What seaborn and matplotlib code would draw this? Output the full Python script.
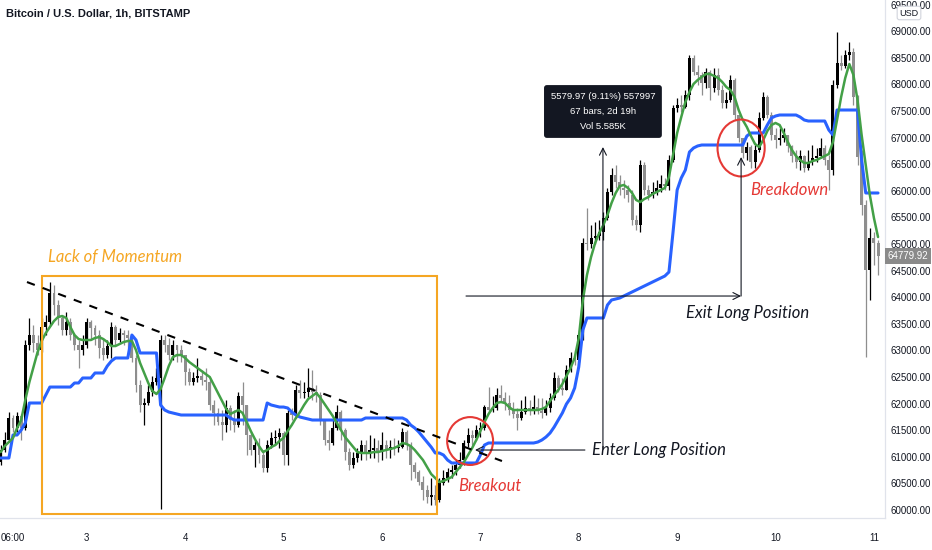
import matplotlib
matplotlib.use("Agg")
import matplotlib.pyplot as plt
from matplotlib import font_manager
from matplotlib.patches import Rectangle, Ellipse
import seaborn as sns
import numpy as np
import pandas as pd

# BTC/USD 1h candles (hour 0 = day 2, 00:00)
first_open = 60900
closes = [
    61128, 61316, 61730, 61542, 61767, 61542, 63102, 63290, 63140, 63008,
    63440, 63534, 64080, 63854, 63610, 63384, 63534, 63290, 63102, 63008,
    63102, 63534, 63422, 63290, 63046, 62914, 63084, 63440, 63196, 63328,
    63290, 63234, 62858, 62350, 61974, 62012, 62218, 62406, 62482, 63196,
    63102, 62914, 63102, 63008, 62914, 62594, 62406, 62482, 62519, 62444,
    62406, 61974, 61824, 61654, 61598, 61918, 61692, 61598, 62143, 61974,
    61410, 61128, 61222, 61034, 60790, 61222, 61354, 61372, 61448, 61034,
    61824, 61786, 62256, 62200, 62218, 62294, 62218, 62162, 61692, 61316,
    61260, 61542, 61842, 61504, 61090, 60846, 60978, 61072, 61222, 61090,
    61128, 61166, 61090, 61222, 61128, 61184, 61166, 61184, 61466, 61222,
    60846, 60714, 60526, 60376, 60244, 60282, 60188, 60508, 60602, 60714,
    60752, 60846, 60940, 61260, 61410, 61354, 61504, 61542, 61936, 61880,
    61918, 62162, 62106, 62012, 61880, 61805, 61730, 61842, 61918, 61880,
    61936, 61861, 61824, 61918, 62106, 62482, 62294, 62256, 62632, 62858,
    62820, 63290, 65020, 65000, 65114, 65150, 65226, 65490, 65980, 66298,
    66166, 66054, 66016, 65922, 65452, 65358, 66486, 66016, 65922, 65980,
    66054, 66130, 66092, 66580, 67558, 67614, 67576, 67802, 68498, 68234,
    68178, 68028, 68234, 67934, 68178, 67896, 67652, 67708, 68084, 67426,
    66994, 66712, 66824, 66542, 66768, 67370, 67764, 67426, 67050, 66956,
    66994, 67050, 66844, 66655, 66542, 66655, 66430, 66542, 66618, 66655,
    66806, 66580, 66392, 67990, 68404, 68347, 68554, 68610, 67764, 66636,
    65734, 64512, 65114, 65020, 64779.92,
]
highs = [
    61222, 61466, 61842, 61786, 61842, 61805, 63196, 63610, 63478, 63290,
    63610, 63666, 64286, 64230, 63948, 63666, 63722, 63610, 63328, 63196,
    63290, 63610, 63572, 63478, 63384, 63234, 63196, 63534, 63478, 63422,
    63384, 63384, 63271, 62914, 62444, 62106, 62350, 62519, 62670, 63290,
    63290, 63234, 63196, 63102, 63102, 62914, 62670, 62594, 62858, 62632,
    62670, 62482, 62068, 61918, 61880, 62068, 61974, 61880, 62218, 62406,
    61974, 61466, 61316, 61354, 61128, 61316, 61466, 61504, 61542, 61480,
    61880, 61918, 62350, 62444, 62406, 62670, 62632, 62350, 62218, 61692,
    61504, 61692, 61974, 61880, 61542, 61166, 61090, 61166, 61316, 61316,
    61410, 61354, 61316, 61466, 61316, 61316, 61354, 61316, 61542, 61504,
    61278, 60902, 60752, 60639, 60470, 60602, 60470, 60602, 60752, 60790,
    60846, 60940, 61090, 61316, 61542, 61504, 61598, 61654, 61974, 62312,
    62143, 62294, 62350, 62218, 62162, 62030, 61918, 62068, 62143, 62068,
    62162, 62106, 62106, 62068, 62200, 62594, 62538, 62482, 62726, 62970,
    63008, 63384, 65114, 65678, 65358, 65414, 65452, 65602, 66054, 66430,
    66486, 66298, 66204, 66110, 66016, 65546, 66580, 66542, 66110, 66166,
    66204, 66298, 66242, 66674, 67614, 67746, 67802, 67896, 68554, 68554,
    68366, 68234, 68310, 68272, 68310, 68310, 67990, 67858, 68178, 68122,
    67426, 66994, 66918, 66862, 66862, 67482, 67858, 67802, 67482, 67182,
    67182, 67182, 67050, 66862, 66768, 66768, 66674, 66768, 66862, 66806,
    66994, 66862, 66674, 68084, 68986, 68554, 68648, 68798, 68686, 67802,
    66768, 65828, 65302, 65226, 65076,
]
lows = [
    60846, 61090, 61278, 61466, 61466, 61316, 61504, 63008, 62970, 62914,
    62970, 63290, 63478, 63666, 63478, 63290, 63290, 63196, 63008, 62670,
    62914, 63046, 63196, 63102, 62858, 62820, 62858, 62858, 63102, 63158,
    63102, 63046, 62782, 62218, 61842, 61598, 61974, 62143, 62350, 60020,
    62970, 62820, 62820, 62782, 62782, 62350, 62350, 62350, 62406, 62350,
    62256, 61880, 61598, 61598, 61316, 61466, 61504, 61466, 61560, 61598,
    61034, 61034, 60808, 60884, 60714, 60714, 61166, 61222, 61166, 60846,
    60846, 61692, 61730, 62106, 62106, 62130, 62068, 62030, 61598, 61222,
    61128, 61222, 61504, 61316, 60940, 60752, 60790, 60902, 60940, 60940,
    60978, 60978, 60902, 60940, 60978, 60978, 61034, 61090, 61166, 61128,
    60564, 60602, 60470, 60188, 60132, 60094, 60094, 60150, 60470, 60526,
    60602, 60658, 60790, 60846, 61184, 61222, 61316, 61372, 61504, 61842,
    61842, 61880, 62030, 61880, 61786, 61730, 61504, 61692, 61805, 61786,
    61805, 61805, 61730, 61786, 61842, 62068, 62218, 62162, 62256, 62594,
    62726, 62782, 63196, 64888, 64926, 65000, 65076, 65076, 65452, 65922,
    66054, 65922, 65866, 65790, 65358, 65264, 65226, 65922, 65828, 65866,
    65922, 65980, 66016, 66016, 66542, 67482, 67482, 67558, 67708, 68178,
    67990, 67802, 67934, 67708, 67858, 67802, 67558, 67558, 67670, 67332,
    66918, 66618, 66580, 66430, 66430, 66730, 67332, 67370, 66956, 66806,
    66862, 66918, 66730, 66542, 66430, 66392, 66354, 66392, 66486, 66542,
    66618, 66486, 66016, 66298, 67934, 68272, 68310, 68460, 67614, 66486,
    65546, 62876, 63948, 64606, 64418,
]
# green smoothed average, one value per candle
green_ma = [
    61090, 61203, 61278, 61354, 61542, 61692, 62068, 62406, 62688, 62970,
    63177, 63328, 63440, 63553, 63628, 63647, 63610, 63440, 63290, 63215,
    63196, 63196, 63196, 63234, 63252, 63215, 63158, 63083, 63083, 63121,
    63158, 63177, 63177, 63008, 62764, 62576, 62388, 62237, 62181, 62275,
    62482, 62707, 62876, 62914, 62914, 62858, 62782, 62726, 62670, 62613,
    62557, 62500, 62350, 62200, 62049, 61899, 61805, 61842, 61880, 61824,
    61654, 61485, 61335, 61203, 61090, 61128, 61184, 61222, 61297, 61354,
    61485, 61598, 61730, 61842, 61974, 62087, 62143, 62200, 62106, 61993,
    61880, 61767, 61636, 61504, 61372, 61278, 61184, 61090, 61072, 61072,
    61072, 61090, 61090, 61109, 61128, 61147, 61166, 61203, 61260, 61241,
    61203, 61128, 61034, 60940, 60808, 60677, 60602, 60526, 60545, 60583,
    60620, 60714, 60808, 60902, 61034, 61166, 61316, 61485, 61654, 61805,
    61918, 62012, 62030, 62012, 61936, 61880, 61880, 61880, 61880, 61880,
    61880, 61880, 61899, 61936, 62049, 62162, 62256, 62369, 62519, 62670,
    62858, 63234, 63948, 64418, 64756, 65020, 65208, 65358, 65546, 65772,
    65960, 66091, 66110, 66054, 65960, 65828, 65790, 65847, 65884, 65941,
    65978, 66016, 66054, 66262, 66674, 67088, 67388, 67670, 67858, 68009,
    68084, 68140, 68197, 68197, 68159, 68122, 68046, 67952, 67896, 67764,
    67520, 67332, 67200, 67031, 66881, 66824, 66956, 67125, 67238, 67276,
    67238, 67088, 66918, 66768, 66655, 66580, 66524, 66524, 66561, 66580,
    66618, 66655, 66693, 66918, 67332, 67764, 68122, 68385, 68178, 67708,
    67050, 66486, 65922, 65490, 65132,
]
# blue stepped line, one value per candle
blue_line = [
    60978, 60978, 60978, 61410, 61410, 61504, 61636, 62012, 62012, 62012,
    62012, 62162, 62312, 62312, 62312, 62312, 62312, 62312, 62388, 62388,
    62482, 62482, 62482, 62576, 62576, 62576, 62707, 62801, 62858, 62858,
    62858, 62858, 63290, 63196, 62952, 62952, 62952, 62952, 62952, 61974,
    61880, 61842, 61824, 61805, 61786, 61786, 61786, 61786, 61786, 61786,
    61786, 61786, 61786, 61786, 61786, 61786, 61730, 61692, 61692, 61692,
    61692, 61692, 61692, 61692, 61692, 62012, 61974, 61956, 61936, 61936,
    61918, 61842, 61786, 61748, 61730, 61711, 61692, 61692, 61692, 61692,
    61692, 61692, 61692, 61692, 61692, 61692, 61692, 61692, 61692, 61730,
    61730, 61730, 61730, 61730, 61730, 61730, 61730, 61730, 61730, 61692,
    61598, 61542, 61466, 61372, 61278, 61184, 61072, 61072, 61034, 60940,
    60884, 60884, 60884, 60884, 60884, 60884, 60884, 61034, 61222, 61260,
    61260, 61260, 61260, 61260, 61260, 61260, 61260, 61260, 61260, 61260,
    61260, 61278, 61316, 61372, 61448, 61560, 61692, 61824, 61993, 62106,
    62294, 62689, 63384, 63610, 63610, 63610, 63610, 63610, 63854, 63948,
    63967, 63986, 64024, 64061, 64098, 64136, 64174, 64211, 64249, 64286,
    64324, 64362, 64399, 64474, 65226, 66016, 66242, 66392, 66730, 66806,
    66844, 66862, 66862, 66862, 66862, 66862, 66862, 66862, 66862, 66862,
    66862, 66862, 67031, 67088, 67088, 67088, 67088, 67238, 67370, 67407,
    67426, 67426, 67426, 67426, 67426, 67388, 67332, 67313, 67313, 67313,
    67313, 67313, 67144, 67050, 67520, 67520, 67520, 67520, 67520, 67520,
    66580, 65960, 65960, 65960, 65960,
]

tick_hours = [6, 24, 48, 72, 96, 120, 144, 168, 192, 216]
tick_labels = ["06:00", "3", "4", "5", "6", "7", "8", "9", "10", "11"]
last_price = 64779.92

hours = np.arange(3, 3 + len(closes))
df = pd.DataFrame({
    "h": hours,
    "open": [first_open] + closes[:-1],
    "close": closes,
    "high": highs,
    "low": lows,
    "green": green_ma,
    "blue": blue_line,
})

sns.set_style("white")
installed = {f.name for f in font_manager.fontManager.ttflist}
narrow = "Liberation Sans Narrow" if "Liberation Sans Narrow" in installed else "Liberation Sans"
plt.rcParams["font.family"] = [narrow, "DejaVu Sans"]
note_font = ["Lato", "DejaVu Sans"]

fig = plt.figure(figsize=(9.32, 5.5), dpi=100)
ax = fig.add_axes([0, 32 / 550, 885 / 932, 518 / 550])

# candles: black = up, gray = down
up = df["close"] >= df["open"]
cols = np.where(up, "#000000", "#8e8e8e")
ax.vlines(df["h"], df["low"], df["high"], colors=cols, lw=0.9, zorder=2)
body_low = np.minimum(df["open"], df["close"])
body_h = np.maximum((df["close"] - df["open"]).abs(), 14)
ax.bar(df["h"], body_h, bottom=body_low, width=0.72, color=cols, lw=0, zorder=3)

sns.lineplot(data=df, x="h", y="blue", ax=ax, color="#2962ff", lw=2.2, zorder=4)
sns.lineplot(data=df, x="h", y="green", ax=ax, color="#43a047", lw=1.8, zorder=5)

ax.set_xlim(2.83, 218.7)
ax.set_ylim(59850, 69588)
ax.set_xlabel("")
ax.set_ylabel("")

# axes like tradingview
ax.yaxis.tick_right()
ax.set_yticks(np.arange(60000, 69501, 500))
ax.set_yticklabels([f"{v:.2f}" for v in np.arange(60000, 69501, 500)])
ax.set_xticks(tick_hours)
ax.set_xticklabels(tick_labels)
ax.tick_params(axis="y", length=0, pad=4, labelsize=7, colors="#131722")
ax.tick_params(axis="x", length=0, pad=11, labelsize=7, colors="#131722")
for s in ["top", "left"]:
    ax.spines[s].set_visible(False)
for s in ["right", "bottom"]:
    ax.spines[s].set_color("#e0e3eb")
    ax.spines[s].set_linewidth(0.9)

# Lack of momentum box + trendline
ax.add_patch(Rectangle((13.1, 59925), 96.3, 4474, fill=False, ec="#f5a623", lw=1.5, zorder=6))
ax.text(14.5, 64756, "Lack of Momentum", color="#f5a623", fontsize=12, style="italic",
        family=note_font, va="center", ha="left")
ax.plot([9.41, 125.27], [64286, 60921], color="#000000", lw=1.5, ls=(0, (4, 4)), zorder=6)

# breakout / breakdown
ax.add_patch(Ellipse((117.5, 61297), 11.2, 900, fill=False, ec="#e53935", lw=1.5, zorder=7))
ax.text(122.3, 60451, "Breakout", color="#e53935", fontsize=12, style="italic",
        family=note_font, ha="center", va="center")
ax.add_patch(Ellipse((183.6, 66806), 11.5, 1070, fill=False, ec="#e53935", lw=1.5, zorder=7))
ax.text(195.3, 66016, "Breakdown", color="#e53935", fontsize=12, style="italic",
        family=note_font, ha="center", va="center")

# measure lines
arr = dict(arrowstyle="->,head_length=0.5,head_width=0.25", color="#131722", lw=0.8,
           shrinkA=0, shrinkB=0)
ax.annotate("", xy=(183.6, 64023), xytext=(116.5, 64023), arrowprops=arr, zorder=8)
ax.annotate("", xy=(149.9, 66824), xytext=(149.9, 61166), arrowprops=arr, zorder=8)
ax.annotate("", xy=(183.6, 66636), xytext=(183.6, 64023), arrowprops=arr, zorder=8)
ax.annotate("", xy=(118.7, 61128), xytext=(145.5, 61128), arrowprops=arr, zorder=8)
ax.text(147.2, 61128, "Enter Long Position", color="#131722", fontsize=12, style="italic",
        family=note_font, ha="left", va="center")
ax.text(170.2, 63704, "Exit Long Position", color="#131722", fontsize=12, style="italic",
        family=note_font, ha="left", va="center")

ax.text(149.9, 67492, "5579.97 (9.11%) 557997\n67 bars, 2d 19h\nVol 5.585K",
        color="white", fontsize=6.8, ha="center", va="center", linespacing=1.9, zorder=9,
        bbox=dict(boxstyle="round,pad=0.7,rounding_size=0.3", fc="#131722", ec="none"))

# last price tag and USD tag
ax.text(1.003, last_price, f"{last_price:.2f}", transform=ax.get_yaxis_transform(),
        color="white", fontsize=7, ha="left", va="center", clip_on=False,
        bbox=dict(boxstyle="square,pad=0.3", fc="#8a8a8a", ec="none"))
fig.text(909 / 932, 1 - 13 / 550, "USD", fontsize=6.5, color="#131722", ha="center", va="center",
         bbox=dict(boxstyle="round,pad=0.25", fc="white", ec="#d1d4dc", lw=0.8))

fig.text(6 / 932, 1 - 14 / 550, "Bitcoin / U.S. Dollar, 1h, BITSTAMP", fontsize=8,
         fontweight="bold", color="#131722", ha="left", va="center")

fig.savefig("out.png", dpi=100)
